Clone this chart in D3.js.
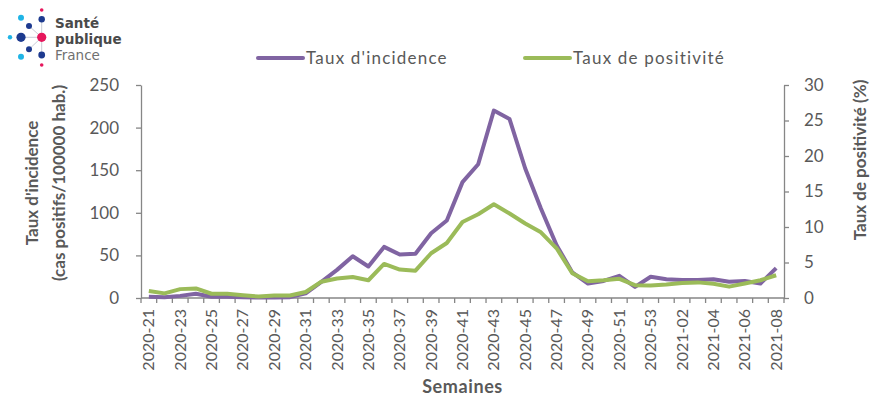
<!DOCTYPE html>
<html>
<head>
<meta charset="utf-8">
<script src="https://cdn.jsdelivr.net/npm/d3@7/dist/d3.min.js"></script>
<style>
  html, body { margin: 0; padding: 0; background: #fff; }
  svg { display: block; }
  text { font-family: Lato, "Open Sans", sans-serif; fill: #595959; }
</style>
</head>
<body>
<svg id="chart" width="870" height="398"></svg>
<script>
// Weekly surveillance: incidence rate (per 100 000) and test positivity (%)
const weeks = [
  "2020-21","2020-22","2020-23","2020-24","2020-25","2020-26","2020-27","2020-28",
  "2020-29","2020-30","2020-31","2020-32","2020-33","2020-34","2020-35","2020-36",
  "2020-37","2020-38","2020-39","2020-40","2020-41","2020-42","2020-43","2020-44",
  "2020-45","2020-46","2020-47","2020-48","2020-49","2020-50","2020-51","2020-52",
  "2020-53","2021-01","2021-02","2021-03","2021-04","2021-05","2021-06","2021-07",
  "2021-08"
];
const incidence = [
  1.5, 1, 2.5, 5, 1.5, 1.5, 1, 0.5, 0.5, 1, 5.5, 19, 33, 49, 37, 60, 51, 52, 76, 91,
  136, 157, 220, 210, 152, 105, 62, 30, 17, 20, 26, 13, 25, 22, 21, 21, 22, 19, 20, 17, 35
];
const positivity = [
  1.0, 0.65, 1.25, 1.35, 0.6, 0.6, 0.4, 0.2, 0.35, 0.35, 0.85, 2.3, 2.75, 2.95, 2.5, 4.8,
  4.0, 3.85, 6.3, 7.75, 10.7, 11.8, 13.2, 11.9, 10.5, 9.25, 7.0, 3.5, 2.35, 2.5, 2.7, 1.8,
  1.75, 1.9, 2.1, 2.2, 2.0, 1.6, 2.05, 2.5, 3.2
];
const leftTicks = [0, 50, 100, 150, 200, 250];
const rightTicks = [0, 5, 10, 15, 20, 25, 30];
const seriesNames = ["Taux d'incidence", "Taux de positivité"];

const colors = { incidence: "#8064a2", positivity: "#9bbb59", axis: "#868686", text: "#595959" };

const svg = d3.select("#chart");
const plot = { left: 141, right: 784, top: 85, bottom: 298 };

const x = d3.scaleBand().domain(weeks).range([plot.left, plot.right]).paddingInner(0).paddingOuter(0);
const cx = d => x(d) + x.bandwidth() / 2;
const yL = d3.scaleLinear().domain([0, 250]).range([plot.bottom, plot.top]);
const yR = d3.scaleLinear().domain([0, 30]).range([plot.bottom, plot.top]);

// --- Logo (Santé publique France) ---
const logo = svg.append("g").attr("class", "logo");
const hub = [41.7, 37.3];
const spokes = [[41.7, 19.3], [29, 26], [21, 37.3], [29, 49.3], [41.7, 55]];
spokes.forEach(p => {
  logo.append("line").attr("x1", hub[0]).attr("y1", hub[1]).attr("x2", p[0]).attr("y2", p[1])
    .attr("stroke", "#c9ccd6").attr("stroke-width", 1);
});
const dots = [
  [41.7, 10, 1.8, "#e6175c"], [41.7, 19.3, 3.2, "#1d3a8f"], [21, 17.7, 3, "#1fb4e6"],
  [29, 26, 3, "#1d3a8f"], [10, 37.3, 2.2, "#1fb4e6"], [21, 37.3, 4.6, "#1d3a8f"],
  [41.7, 37.3, 4.6, "#e6175c"], [29, 49.3, 3, "#1d3a8f"], [21, 56.7, 3, "#1fb4e6"],
  [41.7, 55, 3.4, "#1d3a8f"], [41.7, 65, 1.8, "#e6175c"]
];
dots.forEach(d => logo.append("circle").attr("cx", d[0]).attr("cy", d[1]).attr("r", d[2]).attr("fill", d[3]));
const logoFont = "'DejaVu Sans', sans-serif";
logo.append("text").attr("x", 55).attr("y", 28).attr("font-size", 13.5).attr("font-weight", 700)
  .style("font-family", logoFont).style("fill", "#4a4a4a").text("Santé");
logo.append("text").attr("x", 55).attr("y", 44).attr("font-size", 13.5).attr("font-weight", 700)
  .style("font-family", logoFont).style("fill", "#4a4a4a").text("publique");
logo.append("text").attr("x", 55).attr("y", 60).attr("font-size", 13.5).attr("font-weight", 400)
  .style("font-family", logoFont).style("fill", "#707070").text("France");

// --- Axes ---
const axisStyle = g => {
  g.select(".domain").attr("stroke", colors.axis).attr("stroke-width", 1.3);
  g.selectAll(".tick line").attr("stroke", colors.axis).attr("stroke-width", 1.3);
  g.selectAll("text").style("fill", colors.text).attr("font-size", 17);
};

svg.append("g").attr("transform", `translate(${plot.left},0)`)
  .call(d3.axisLeft(yL).tickValues(leftTicks).tickSize(5).tickPadding(17).tickSizeOuter(0))
  .call(axisStyle);

svg.append("g").attr("transform", `translate(${plot.right},0)`)
  .call(d3.axisRight(yR).tickValues(rightTicks).tickSize(5).tickPadding(15).tickSizeOuter(0))
  .call(axisStyle);

// Category axis: ticks sit between weeks, labels on every other week
const gB = svg.append("g").attr("transform", `translate(0,${plot.bottom})`);
gB.append("line").attr("x1", plot.left).attr("x2", plot.right).attr("y1", 0).attr("y2", 0)
  .attr("stroke", colors.axis).attr("stroke-width", 1.3);
const boundaries = weeks.map(w => x(w)).concat([plot.right]);
gB.selectAll("line.tick").data(boundaries).join("line").attr("class", "tick")
  .attr("x1", d => d).attr("x2", d => d).attr("y1", 0).attr("y2", 5)
  .attr("stroke", colors.axis).attr("stroke-width", 1.3);
gB.selectAll("text.lbl").data(weeks.filter((w, i) => i % 2 === 0)).join("text").attr("class", "lbl")
  .attr("transform", d => `translate(${cx(d) + 5.5},${11}) rotate(-90)`)
  .attr("text-anchor", "end").attr("font-size", 16).text(d => d);

// Axis titles
svg.append("text").attr("transform", `translate(38,183) rotate(-90)`).attr("text-anchor", "middle")
  .attr("font-size", 17).attr("font-weight", 700).text("Taux d'incidence");
svg.append("text").attr("transform", `translate(65,183) rotate(-90)`).attr("text-anchor", "middle")
  .attr("font-size", 17).attr("font-weight", 700).text("(cas positifs/100000 hab.)");
svg.append("text").attr("transform", `translate(866,160) rotate(-90)`).attr("text-anchor", "middle")
  .attr("font-size", 17).attr("font-weight", 700).text("Taux de positivité (%)");
svg.append("text").attr("x", (plot.left + plot.right) / 2).attr("y", 393).attr("text-anchor", "middle")
  .attr("font-size", 18).attr("font-weight", 700).style("letter-spacing", "0.6px").text("Semaines");

// --- Lines ---
const lineL = d3.line().x((d, i) => cx(weeks[i])).y(d => yL(d));
const lineR = d3.line().x((d, i) => cx(weeks[i])).y(d => yR(d));
svg.append("path").datum(incidence).attr("d", lineL).attr("fill", "none")
  .attr("stroke", colors.incidence).attr("stroke-width", 4).attr("stroke-linejoin", "round");
svg.append("path").datum(positivity).attr("d", lineR).attr("fill", "none")
  .attr("stroke", colors.positivity).attr("stroke-width", 4).attr("stroke-linejoin", "round");

// --- Legend ---
const legend = [
  { name: seriesNames[0], color: colors.incidence, x: 258 },
  { name: seriesNames[1], color: colors.positivity, x: 525 }
];
legend.forEach(l => {
  svg.append("line").attr("x1", l.x).attr("x2", l.x + 45).attr("y1", 58).attr("y2", 58)
    .attr("stroke", l.color).attr("stroke-width", 4).attr("stroke-linecap", "round");
  svg.append("text").attr("x", l.x + 48).attr("y", 64).attr("font-size", 17)
    .style("letter-spacing", "1.2px").text(l.name);
});
</script>
</body>
</html>
